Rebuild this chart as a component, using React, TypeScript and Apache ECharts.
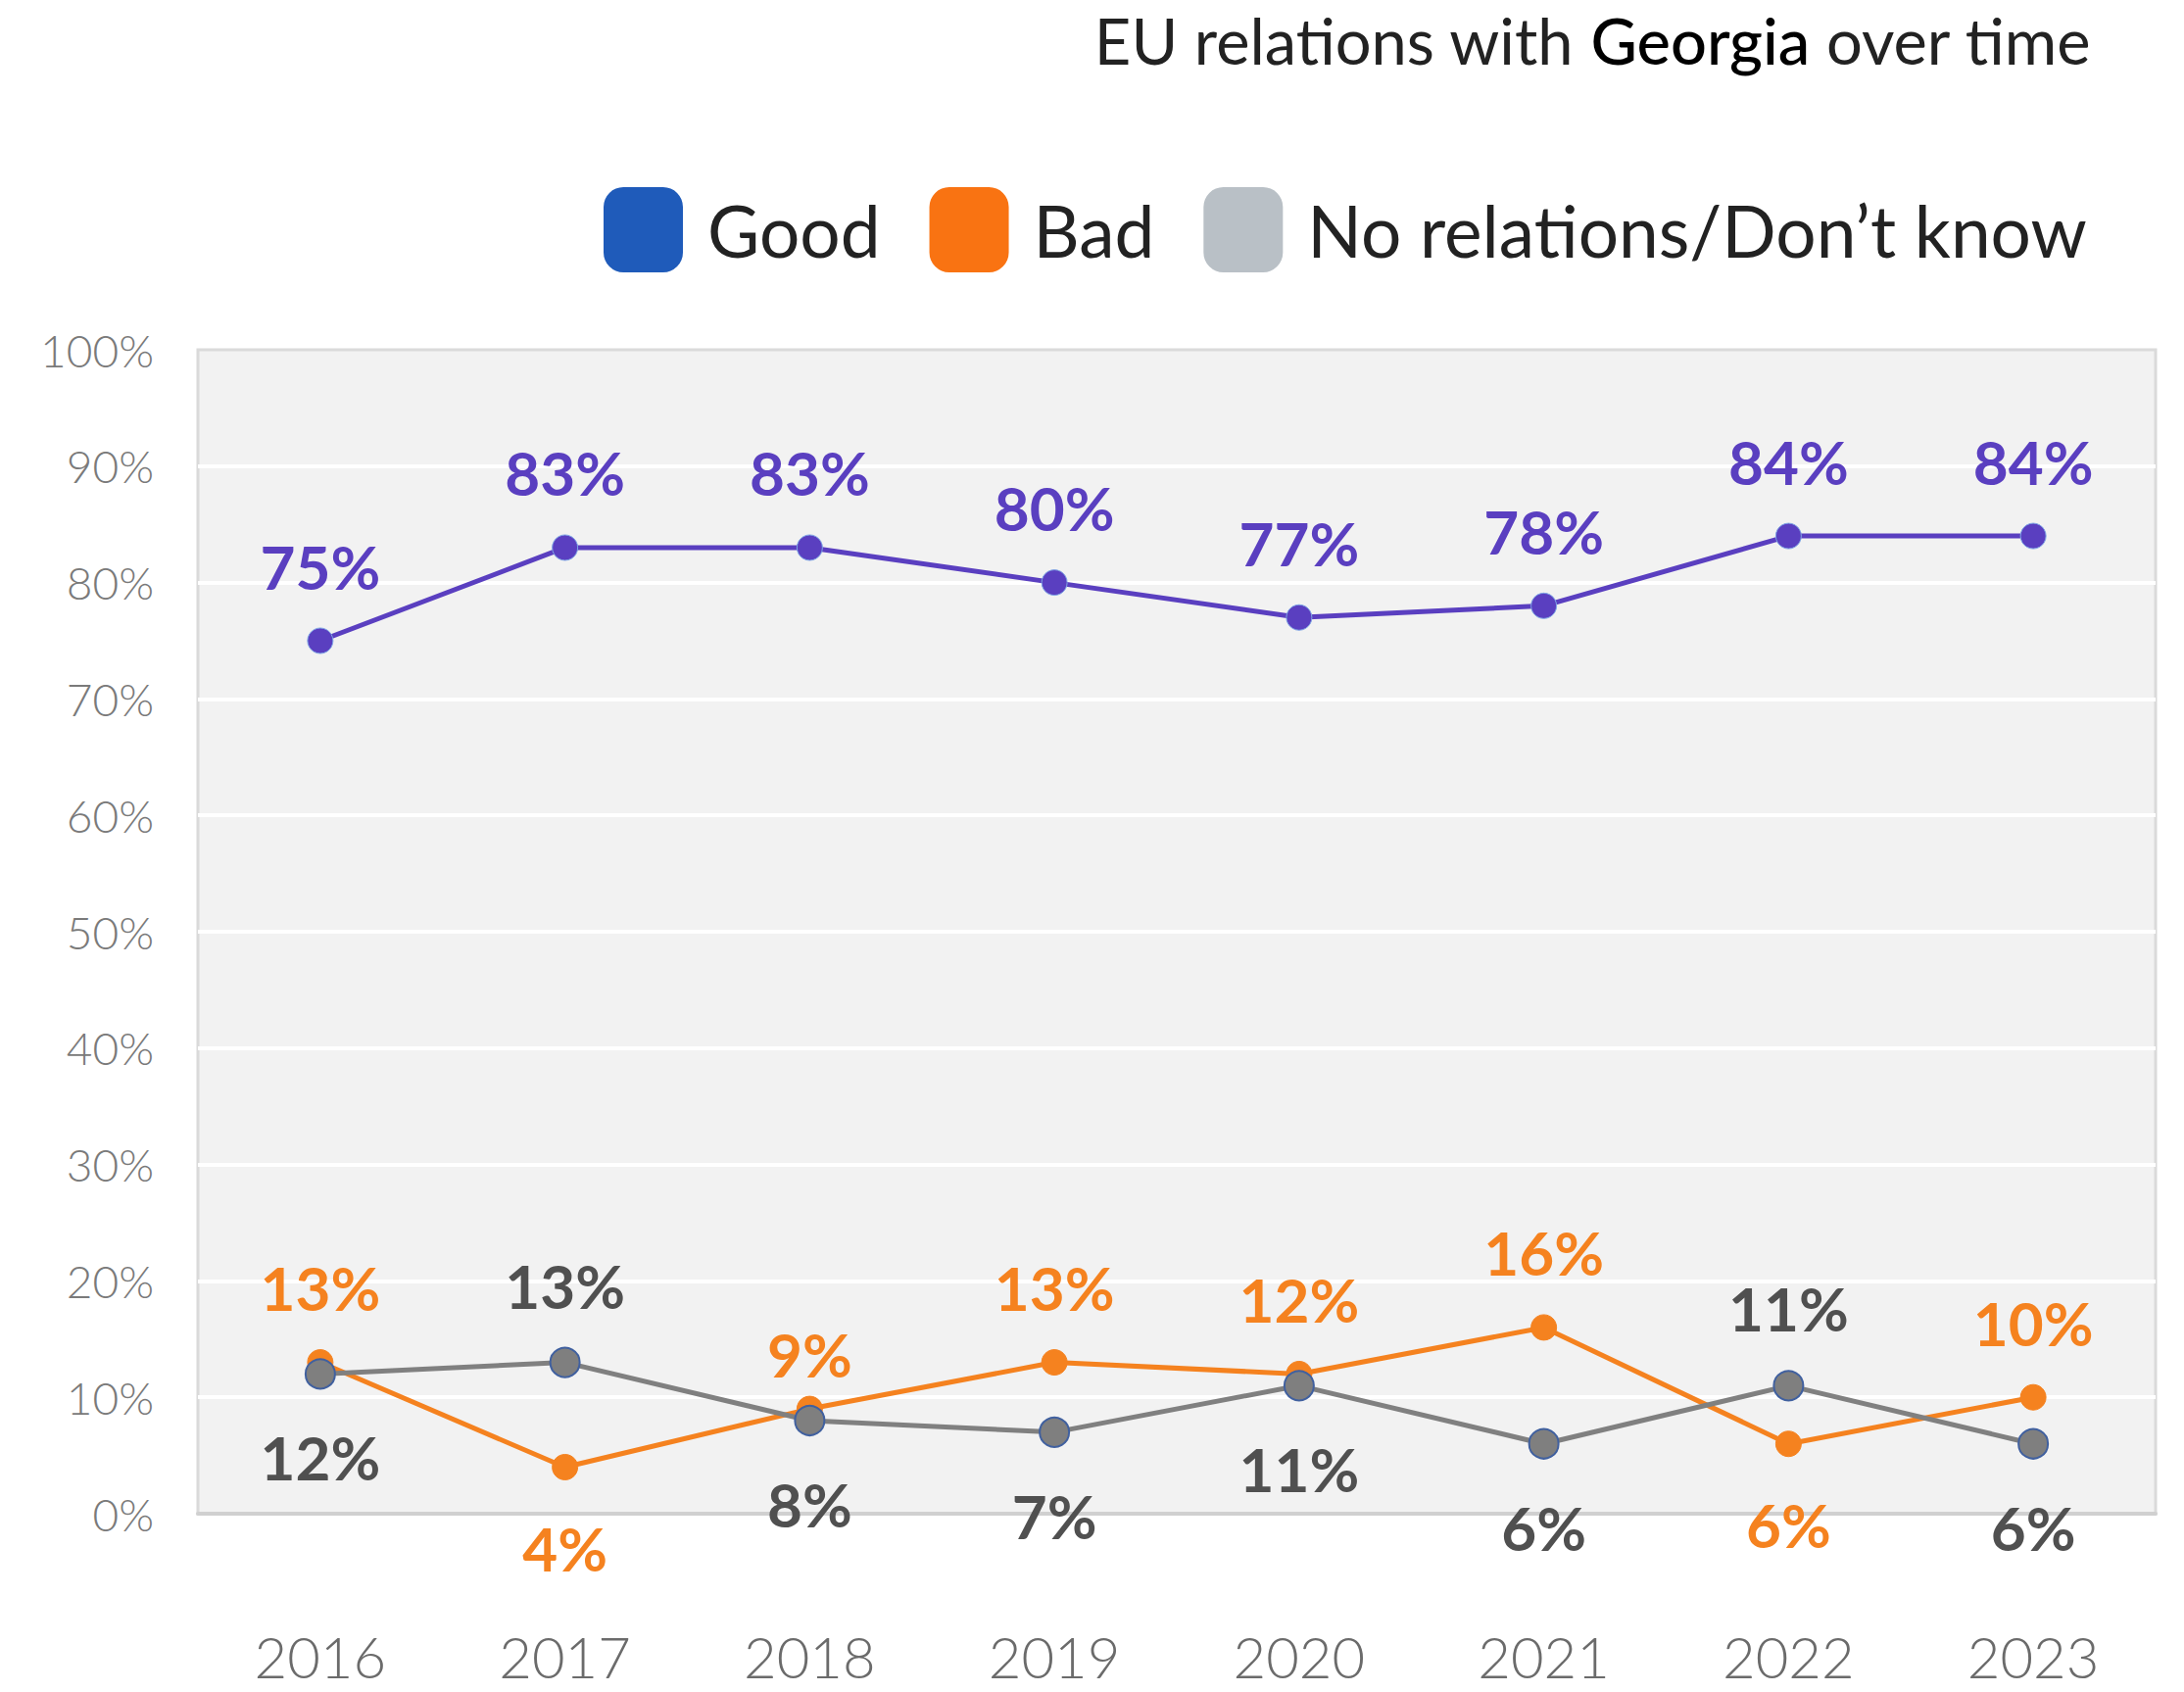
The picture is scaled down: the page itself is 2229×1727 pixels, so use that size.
import React, { useEffect, useRef } from "react";
import * as echarts from "echarts";

const categories = ["2016", "2017", "2018", "2019", "2020", "2021", "2022", "2023"];
const goodValues = [75, 83, 83, 80, 77, 78, 84, 84];
const badValues = [13, 4, 9, 13, 12, 16, 6, 10];
const noRelValues = [12, 13, 8, 7, 11, 6, 11, 6];
const goodLabelPlacement = ["top", "top", "top", "top", "top", "top", "top", "top"];
const badLabelPlacement = ["top", "bottom", "topNear", "top", "top", "top", "bottom", "top"];
const noRelLabelPlacement = ["bottom", "top", "bottom", "bottom", "bottom", "bottom", "top", "bottom"];
const seriesNames = ["Good", "Bad", "No relations/Don\u2019t know"];
const legendColors = ["#1F5BBA", "#F97312", "#B9C0C6"];
const yMin = 0;
const yMax = 100;
const yInterval = 10;

const FONT = "Lato";

function placementLabel(p: string) {
  if (p === "bottom") return { position: "bottom", distance: 38 };
  if (p === "topNear") return { position: "top", distance: 12 };
  return { position: "top", distance: 32 };
}

function buildData(values: number[], placements: string[]) {
  return values.map((v, i) => ({ value: v, label: placementLabel(placements[i]) }));
}

export default function App() {
  const ref = useRef<HTMLDivElement>(null);
  useEffect(() => {
    document.body.style.margin = "0";
    if (!ref.current) return;
    const chart = echarts.init(ref.current, undefined, { renderer: "svg" });
    const labelBase = {
      show: true,
      formatter: "{c}%",
      fontFamily: FONT,
      fontWeight: "bold",
      fontSize: 62,
      lineHeight: 62,
    };
    chart.setOption({
      animation: false,
      backgroundColor: "#ffffff",
      title: {
        text: "{a|EU relations with }{b|Georgia}{a| over time}",
        right: 89,
        top: 0,
        textStyle: {
          rich: {
            a: { fontFamily: FONT, fontSize: 65, color: "#222222", fontWeight: "normal", lineHeight: 72 },
            b: { fontFamily: FONT, fontSize: 65, color: "#000000", fontWeight: 500, lineHeight: 72 },
          },
        },
      },
      legend: {
        left: 611,
        top: 186,
        itemWidth: 81,
        itemHeight: 87,
        itemGap: 50,
        icon: "roundRect",
        textStyle: { fontFamily: FONT, fontSize: 73, color: "#222222", padding: [0, 0, 0, 20] },
        data: seriesNames.map((n, i) => ({ name: n, itemStyle: { color: legendColors[i], borderWidth: 0 } })),
      },
      grid: {
        left: 202,
        right: 29,
        top: 357,
        bottom: 182,
        show: true,
        backgroundColor: "#F2F2F2",
        borderColor: "#DADADA",
        borderWidth: 3,
      },
      xAxis: {
        type: "category",
        data: categories,
        boundaryGap: true,
        axisLine: { show: true, lineStyle: { color: "#D0D0D0", width: 4 } },
        axisTick: { show: false },
        axisLabel: { fontFamily: FONT, fontWeight: 300, fontSize: 58, lineHeight: 52, color: "#6B6B6B", margin: 119 },
        splitLine: { show: false },
      },
      yAxis: {
        type: "value",
        min: yMin,
        max: yMax,
        interval: yInterval,
        axisLine: { show: false },
        axisTick: { show: false },
        axisLabel: { formatter: "{value}%", fontFamily: FONT, fontWeight: 300, fontSize: 46, color: "#7A7A7A", margin: 45 },
        splitLine: { show: true, showMinLine: false, showMaxLine: false, lineStyle: { color: "#FFFFFF", width: 4 } },
      },
      series: [
        {
          name: seriesNames[0],
          type: "line",
          data: buildData(goodValues, goodLabelPlacement),
          symbol: "circle",
          symbolSize: 26,
          lineStyle: { color: "#5A3FC0", width: 5 },
          itemStyle: { color: "#5A3FC0", borderColor: "#7FA6E6", borderWidth: 1 },
          label: { ...labelBase, color: "#5A3FC0" },
          z: 3,
        },
        {
          name: seriesNames[1],
          type: "line",
          data: buildData(badValues, badLabelPlacement),
          symbol: "circle",
          symbolSize: 26,
          lineStyle: { color: "#F5821F", width: 5 },
          itemStyle: { color: "#F5821F", borderColor: "#F5821F", borderWidth: 1 },
          label: { ...labelBase, color: "#F5821F" },
          z: 3,
        },
        {
          name: seriesNames[2],
          type: "line",
          data: buildData(noRelValues, noRelLabelPlacement),
          symbol: "circle",
          symbolSize: 30,
          lineStyle: { color: "#808080", width: 5 },
          itemStyle: { color: "#7F7F7F", borderColor: "#40609F", borderWidth: 2 },
          label: { ...labelBase, color: "#505050" },
          z: 4,
        },
      ],
    });
    return () => chart.dispose();
  }, []);
  return <div ref={ref} style={{ width: 2229, height: 1727 }} />;
}
